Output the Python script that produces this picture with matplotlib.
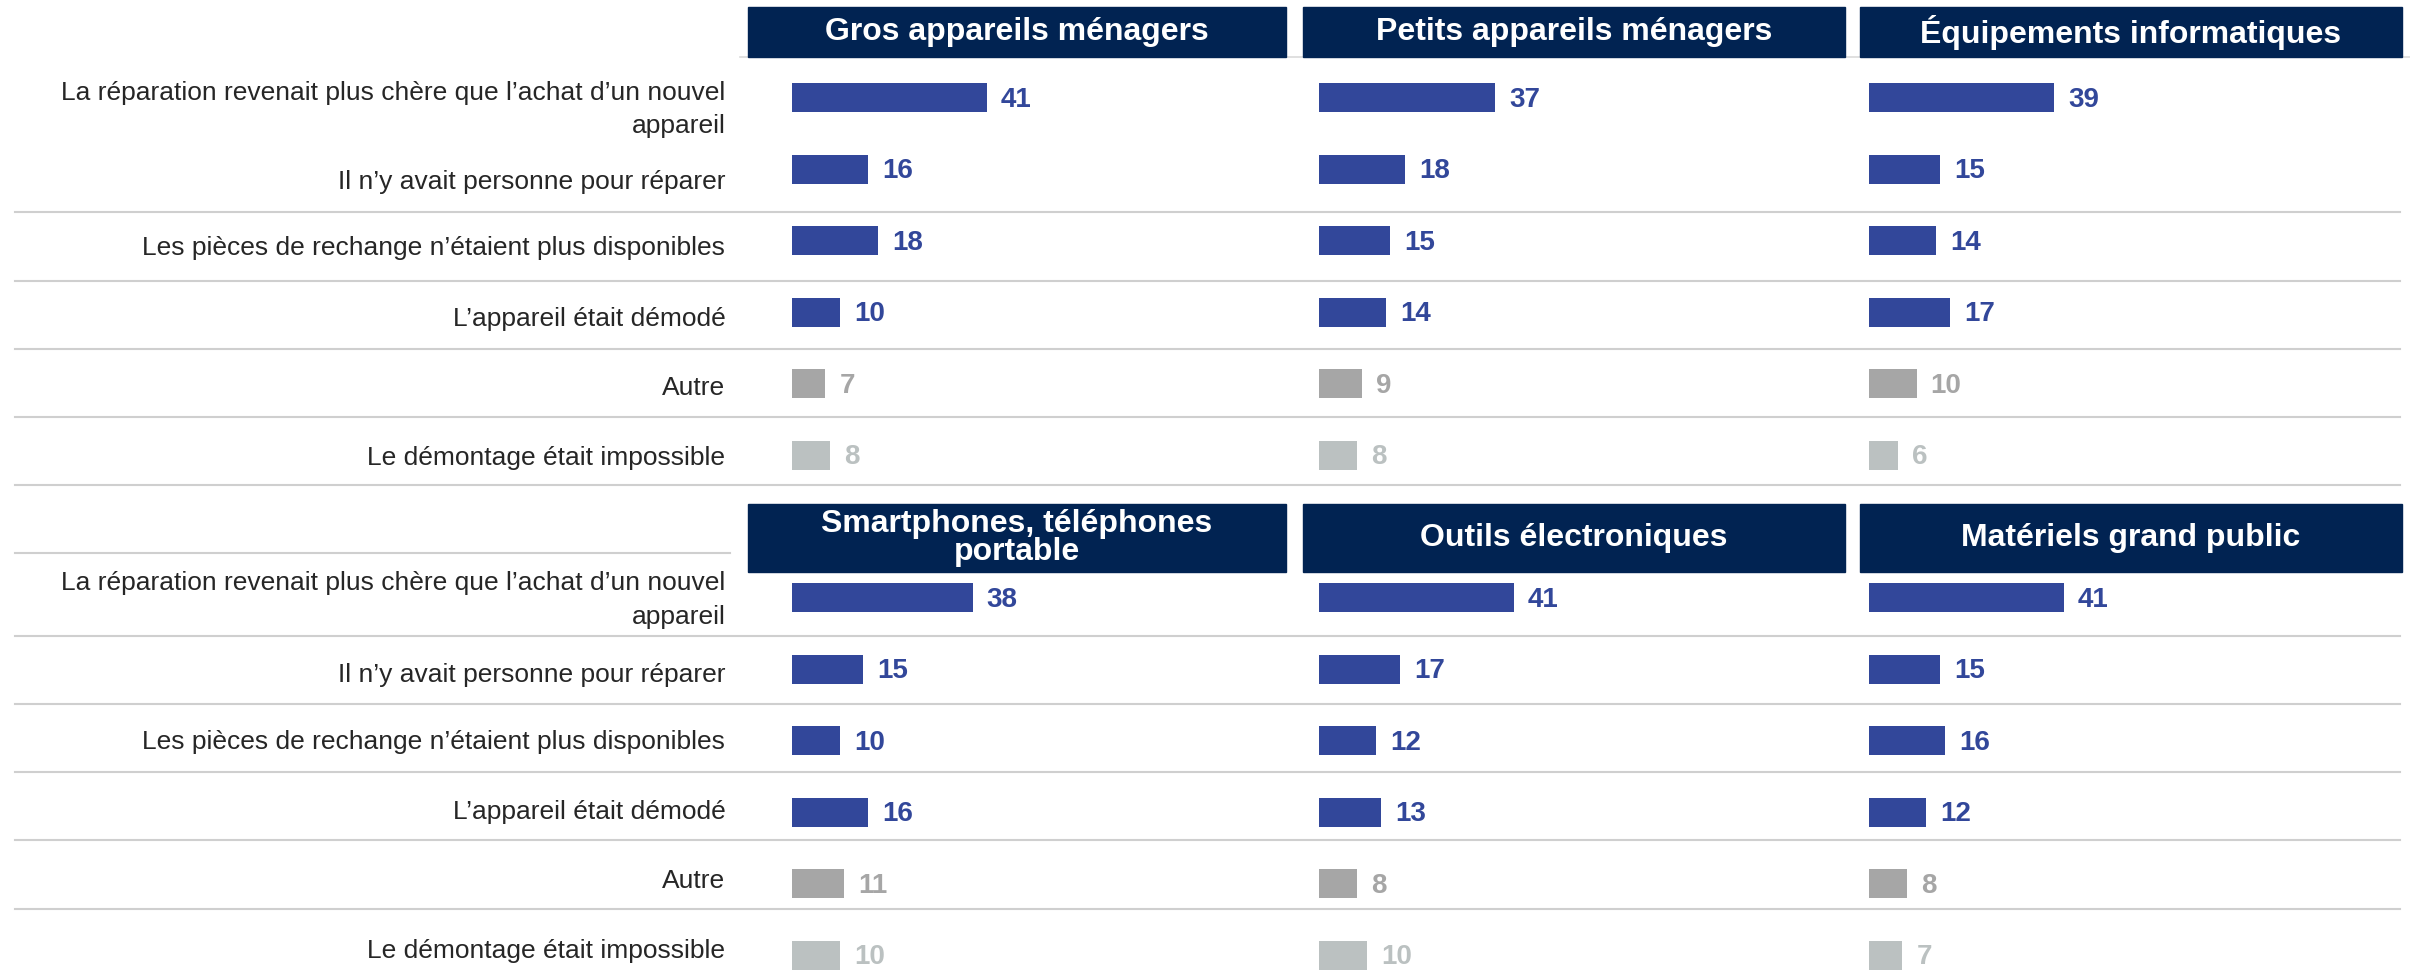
import numpy as np
import matplotlib
matplotlib.use("Agg")
import matplotlib.pyplot as plt
import matplotlib.transforms as mtransforms
from matplotlib.patches import Rectangle
from matplotlib.lines import Line2D

plt.rcParams["font.family"] = ["Liberation Sans", "DejaVu Sans"]

# ─── données ─────────────────────────────────────────────
raisons = [
    "La réparation revenait plus chère que l’achat d’un nouvel\nappareil",
    "Il n’y avait personne pour réparer",
    "Les pièces de rechange n’étaient plus disponibles",
    "L’appareil était démodé",
    "Autre",
    "Le démontage était impossible",
]
categories = [
    "Gros appareils ménagers",
    "Petits appareils ménagers",
    "Équipements informatiques",
    "Smartphones, téléphones\nportable",
    "Outils électroniques",
    "Matériels grand public",
]
gros_menagers = [41, 16, 18, 10, 7, 8]
petits_menagers = [37, 18, 15, 14, 9, 8]
informatique = [39, 15, 14, 17, 10, 6]
smartphones = [38, 15, 10, 16, 11, 10]
outils = [41, 17, 12, 13, 8, 10]
grand_public = [41, 15, 16, 12, 8, 7]
valeurs = [gros_menagers, petits_menagers, informatique,
           smartphones, outils, grand_public]

BLEU = "#32479A"
NAVY = "#012352"
GRIS = "#A6A6A6"
GRIS_CLAIR = "#BBC1C1"
bar_colors = [BLEU, BLEU, BLEU, BLEU, GRIS, GRIS_CLAIR]
LIGNE = "#CFCFCF"

# ─── mise en page (pixels) ────────────────────────────
W, H = 2410, 973
fig = plt.figure(figsize=(W / 100, H / 100), dpi=100)


def fx(px):
    return px / W


def fy(py):
    return 1 - py / H


header_x = [(748, 1286), (1303, 1845), (1860, 2402)]
bar_x0 = [792, 1319, 1869]
header_y = [(7, 57), (504, 572)]
row_top = [62, 562]
row_h = 71.5
px_per_unit = 4.75
# décalage vertical des libellés de gauche (en fraction de ligne)
label_dy = [[0.06, 0.15, 0.06, 0.06, 0.03, 0.0],
            [-0.07, 0.04, -0.02, -0.04, -0.08, -0.1]]

# lignes de séparation
def hline(y, x0=15, x1=2400, color=LIGNE, lw=1.5):
    fig.add_artist(Line2D([fx(x0), fx(x1)], [fy(y), fy(y)],
                          transform=fig.transFigure, color=color, lw=lw))

for y in [212, 281, 349, 417, 485, 636, 704, 772, 840, 909]:
    hline(y)
hline(553, 15, 730)
hline(57, 740, 2410, color="#DADADA", lw=1.2)

for k in range(6):
    r, c = divmod(k, 3)
    x0 = bar_x0[c]
    x1 = header_x[c][1]
    top = row_top[r]
    bottom = top + row_h * 6
    ax = fig.add_axes([fx(x0), fy(bottom), fx(x1 - x0), (bottom - top) / H])
    ax.set_xlim(0, (x1 - x0) / px_per_unit)
    ax.set_ylim(5.5, -0.5)
    ypos = np.arange(len(raisons))
    vals = valeurs[k]
    ax.barh(ypos, vals, height=0.4, color=bar_colors)
    for y, v, col in zip(ypos, vals, bar_colors):
        ax.text(v + 3, y + 0.03, str(v), va="center", ha="left", fontsize=20,
                fontweight="bold", color=col)
    for s in ax.spines.values():
        s.set_visible(False)
    ax.set_xticks([])
    ax.patch.set_alpha(0)
    if c == 0:
        ax.set_yticks(ypos)
        ax.set_yticklabels(raisons, fontsize=19, color="#262626",
                           linespacing=1.5)
        ax.tick_params(axis="y", length=0, pad=48)
        for lab, dy in zip(ax.get_yticklabels(), label_dy[r]):
            lab.set_transform(lab.get_transform() +
                              mtransforms.ScaledTranslation(0, -dy * row_h / 100,
                                                            fig.dpi_scale_trans))
    else:
        ax.set_yticks([])

    # en-tête
    hx0, hx1 = header_x[c]
    hy0, hy1 = header_y[r]
    fig.add_artist(Rectangle((fx(hx0), fy(hy1)), fx(hx1 - hx0), (hy1 - hy0) / H,
                             transform=fig.transFigure, color=NAVY, zorder=3))
    fig.text(fx((hx0 + hx1) / 2), fy((hy0 + hy1) / 2), categories[k],
             ha="center", va="center", color="white", fontsize=23,
             fontweight="bold", linespacing=0.95, zorder=4)

fig.savefig("out.png", dpi=100)
